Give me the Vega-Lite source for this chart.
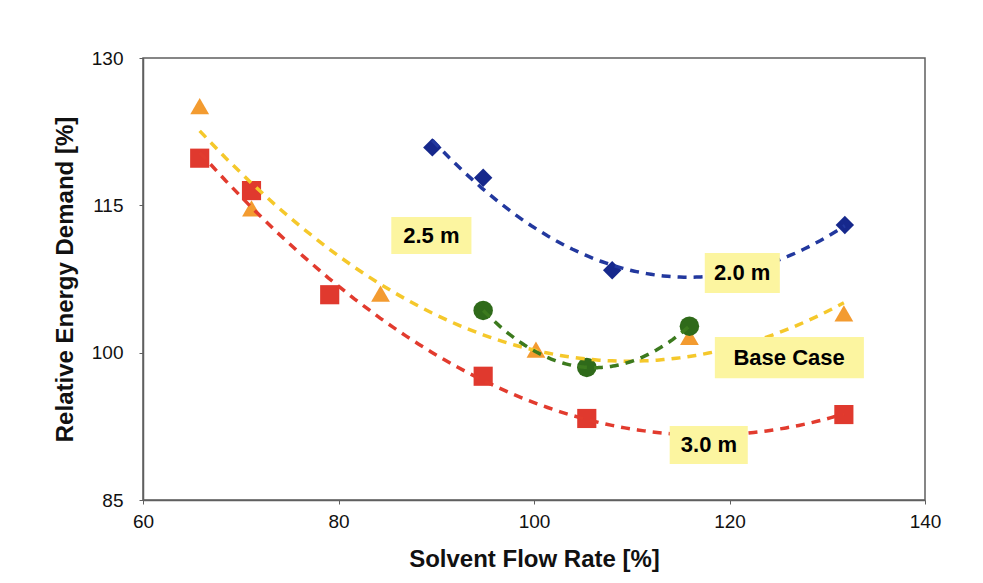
{
  "$schema": "https://vega.github.io/schema/vega-lite/v6.json",
  "width": 782,
  "height": 442,
  "autosize": "none",
  "padding": {"left": 143, "top": 58, "right": 58, "bottom": 83},
  "background": "white",
  "config": {
    "view": {"stroke": "#5f5f5f", "strokeWidth": 1.5},
    "font": "Liberation Sans",
    "axis": {
      "grid": false,
      "domainColor": "#5f5f5f",
      "domainWidth": 1.5,
      "tickColor": "#5f5f5f",
      "tickSize": 4,
      "labelFlush": false,
      "labelFont": "Liberation Sans",
      "labelFontSize": 19,
      "labelColor": "#111111",
      "titleFont": "Liberation Sans",
      "titleFontSize": 24,
      "titleFontWeight": "bold",
      "titleColor": "#111111"
    }
  },
  "datasets": {
    "pts": [
      {"s": "2.0 m", "x": 89.6, "y": 120.9},
      {"s": "2.0 m", "x": 94.8, "y": 117.8},
      {"s": "2.0 m", "x": 108.0, "y": 108.4},
      {"s": "2.0 m", "x": 131.8, "y": 113.0},
      {"s": "Base Case", "x": 65.8, "y": 125.1},
      {"s": "Base Case", "x": 71.1, "y": 114.7},
      {"s": "Base Case", "x": 84.3, "y": 106.0},
      {"s": "Base Case", "x": 100.2, "y": 100.3},
      {"s": "Base Case", "x": 115.9, "y": 101.6},
      {"s": "Base Case", "x": 131.7, "y": 104.0},
      {"s": "3.0 m", "x": 65.8, "y": 119.8},
      {"s": "3.0 m", "x": 71.1, "y": 116.5},
      {"s": "3.0 m", "x": 79.1, "y": 105.9},
      {"s": "3.0 m", "x": 94.8, "y": 97.6},
      {"s": "3.0 m", "x": 105.4, "y": 93.3},
      {"s": "3.0 m", "x": 131.7, "y": 93.7},
      {"s": "2.5 m", "x": 94.8, "y": 104.3},
      {"s": "2.5 m", "x": 105.4, "y": 98.5},
      {"s": "2.5 m", "x": 115.9, "y": 102.7}
    ],
    "labels": [
      {"label": "2.5 m", "x": 89.5, "y": 111.9, "x1": 85.4, "x2": 93.6, "y1": 113.8, "y2": 110.05},
      {"label": "2.0 m", "x": 121.3, "y": 108.1, "x1": 117.47, "x2": 125.15, "y1": 110.15, "y2": 106.07},
      {"label": "Base Case", "x": 126.1, "y": 99.5, "x1": 118.5, "x2": 133.75, "y1": 101.6, "y2": 97.4},
      {"label": "3.0 m", "x": 117.9, "y": 90.6, "x1": 113.88, "x2": 121.87, "y1": 92.53, "y2": 88.66}
    ]
  },
  "resolve": {"scale": {"color": "independent"}},
  "layer": [
    {
      "data": {"name": "pts"},
      "mark": {"type": "point", "filled": true, "opacity": 1},
      "encoding": {
        "x": {"field": "x", "type": "quantitative", "scale": {"domain": [60, 140], "nice": false, "zero": false}, "axis": {"values": [60, 80, 100, 120, 140], "labelPadding": 8, "titlePadding": 16}, "title": "Solvent Flow Rate [%]"},
        "y": {"field": "y", "type": "quantitative", "scale": {"domain": [85, 130], "nice": false, "zero": false}, "axis": {"values": [85, 100, 115, 130], "labelPadding": 16, "titlePadding": 14}, "title": "Relative Energy Demand [%]"},
        "color": {"field": "s", "type": "nominal", "scale": {"domain": ["2.0 m", "Base Case", "3.0 m", "2.5 m"], "range": ["#16288c", "#f39b30", "#e0392e", "#2f6a1a"]}, "legend": null},
        "shape": {"field": "s", "type": "nominal", "scale": {"domain": ["2.0 m", "Base Case", "3.0 m", "2.5 m"], "range": ["diamond", "triangle-up", "square", "circle"]}, "legend": null},
        "size": {"field": "s", "type": "ordinal", "scale": {"domain": ["2.0 m", "Base Case", "3.0 m", "2.5 m"], "range": [340, 380, 260, 230]}, "legend": null}
      }
    },
    {
      "data": {"name": "pts"},
      "transform": [{"regression": "y", "on": "x", "groupby": ["s"], "method": "poly", "order": 2}],
      "mark": {"type": "line", "strokeDash": [9, 7], "strokeWidth": 3.5},
      "encoding": {
        "x": {"field": "x", "type": "quantitative"},
        "y": {"field": "y", "type": "quantitative"},
        "color": {"field": "s", "type": "nominal", "scale": {"domain": ["2.0 m", "Base Case", "3.0 m", "2.5 m"], "range": ["#22389e", "#f5c82b", "#e23b2e", "#3c7a1e"]}, "legend": null}
      }
    },
    {
      "data": {"name": "labels"},
      "mark": {"type": "rect", "fill": "#fcf5a0"},
      "encoding": {
        "x": {"field": "x1", "type": "quantitative"},
        "x2": {"field": "x2"},
        "y": {"field": "y1", "type": "quantitative"},
        "y2": {"field": "y2"}
      }
    },
    {
      "data": {"name": "labels"},
      "mark": {"type": "text", "fontWeight": "bold", "fontSize": 22, "font": "Liberation Sans", "color": "#000000", "baseline": "middle", "align": "center"},
      "encoding": {
        "x": {"field": "x", "type": "quantitative"},
        "y": {"field": "y", "type": "quantitative"},
        "text": {"field": "label"}
      }
    }
  ]
}
